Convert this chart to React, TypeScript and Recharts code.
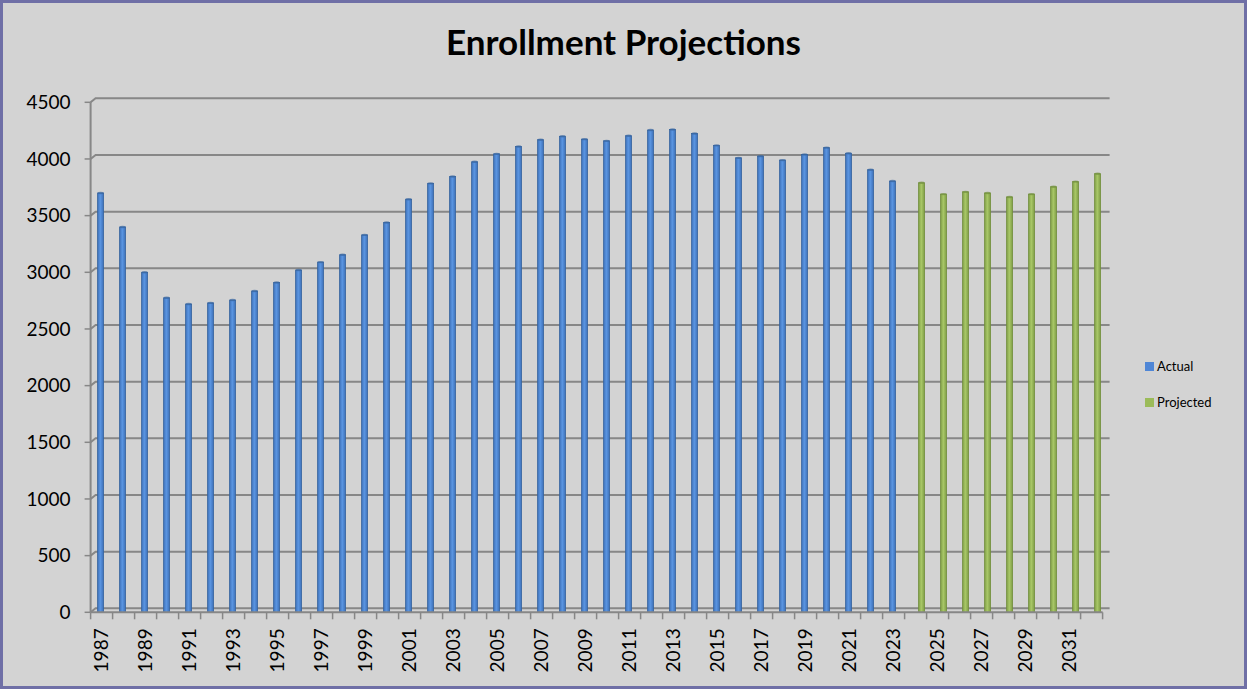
import React from "react";
import { BarChart, Bar, XAxis, YAxis, CartesianGrid, Legend } from "recharts";

// Enrollment per school year, actual counts then projections
const years = [
  "1987", "1988", "1989", "1990", "1991", "1992", "1993", "1994", "1995", "1996",
  "1997", "1998", "1999", "2000", "2001", "2002", "2003", "2004", "2005", "2006",
  "2007", "2008", "2009", "2010", "2011", "2012", "2013", "2014", "2015", "2016",
  "2017", "2018", "2019", "2020", "2021", "2022", "2023", "2024", "2025", "2026",
  "2027", "2028", "2029", "2030", "2031", "2032",
];
const actualValues = [
  3700, 3400, 3000, 2775, 2720, 2730, 2755, 2835, 2910, 3020,
  3090, 3155, 3330, 3440, 3645, 3785, 3845, 3975, 4045, 4110,
  4170, 4200, 4175, 4160, 4205, 4255, 4260, 4225, 4120, 4010,
  4025, 3990, 4040, 4100, 4050, 3905, 3805,
];
const projectedValues = [3790, 3690, 3710, 3700, 3665, 3690, 3755, 3800, 3870];
const yTicks = [0, 500, 1000, 1500, 2000, 2500, 3000, 3500, 4000, 4500];

const data = years.map((year, i) => ({
  year,
  actual: i < actualValues.length ? actualValues[i] : null,
  projected: i >= actualValues.length ? projectedValues[i - actualValues.length] : null,
}));

const W = 1247;
const H = 689;
const PLOT_LEFT = 90.6;
const PLOT_RIGHT = 1102.6;
const BAND = (PLOT_RIGHT - PLOT_LEFT) / years.length;
const GRID = "#878787";
const FONT = "Lato, 'Open Sans', sans-serif";

const makeShape = (gradId: string, edge: string) => (props: any) => {
  const { x, y, width, height } = props;
  if (!height || height <= 0) return <g />;
  const sx = x + 3;
  return (
    <g>
      <rect x={sx} y={y} width={width} height={height} fill={`url(#${gradId})`} stroke={edge} strokeWidth={0.8} />
      <ellipse cx={sx + width / 2} cy={y} rx={width / 2} ry={1.2} fill={edge} opacity={0.6} />
    </g>
  );
};

const XTick = (props: any) => {
  const { x, y, payload, index } = props;
  const half = BAND / 2;
  return (
    <g>
      <line x1={x - half} x2={x - half} y1={y} y2={y + 7} stroke={GRID} strokeWidth={1.5} />
      {index === years.length - 1 && (
        <line x1={x + half} x2={x + half} y1={y} y2={y + 7} stroke={GRID} strokeWidth={1.5} />
      )}
      {index % 2 === 0 && (
        <text
          x={x}
          y={y + 16}
          dy="0.36em"
          transform={`rotate(-90, ${x}, ${y + 16})`}
          textAnchor="end"
          fontSize={19}
          fontFamily={FONT}
          fill="#000"
        >
          {payload.value}
        </text>
      )}
    </g>
  );
};

const gridLine = (p: any) => (
  <polyline
    key={p.key ?? `g-${p.y1}`}
    points={`${p.x1},${p.y1} ${p.x1 + 5},${p.y1 - 4} ${p.x2 + 7},${p.y1 - 4}`}
    fill="none"
    stroke={GRID}
    strokeWidth={2}
  />
);

const LegendBox = () => (
  <div style={{ fontFamily: FONT, fontSize: 13, color: "#000" }}>
    {[
      { label: "Actual", color: "#4f86d6" },
      { label: "Projected", color: "#9bbb59" },
    ].map((it) => (
      <div key={it.label} style={{ display: "flex", alignItems: "center", height: 18, marginBottom: 18 }}>
        <span style={{ width: 9, height: 9, background: it.color, display: "inline-block", marginRight: 3 }} />
        <span>{it.label}</span>
      </div>
    ))}
  </div>
);

export default function App() {
  return (
    <div style={{ position: "absolute", left: 0, top: 0, width: W, height: H, background: "#d3d3d3", overflow: "hidden" }}>
      <div
        style={{
          position: "absolute",
          left: 0,
          top: 20,
          width: W,
          textAlign: "center",
          fontFamily: FONT,
          fontWeight: 700,
          fontSize: 35,
          lineHeight: "42px",
          color: "#000",
        }}
      >
        Enrollment Projections
      </div>
      <div style={{ position: "absolute", left: 0, top: 0 }}>
        <BarChart
          width={W}
          height={H}
          data={data}
          margin={{ top: 102.3, right: W - PLOT_RIGHT, bottom: H - 612.3 - 60, left: 0 }}
          barSize={6}
          barGap={1}
        >
          <defs>
            <linearGradient id="blueGrad" x1="0" y1="0" x2="1" y2="0">
              <stop offset="0%" stopColor="#3d70b8" />
              <stop offset="45%" stopColor="#5b96e2" />
              <stop offset="100%" stopColor="#3d70b8" />
            </linearGradient>
            <linearGradient id="greenGrad" x1="0" y1="0" x2="1" y2="0">
              <stop offset="0%" stopColor="#7e9c45" />
              <stop offset="45%" stopColor="#a9c868" />
              <stop offset="100%" stopColor="#7e9c45" />
            </linearGradient>
          </defs>
          <CartesianGrid vertical={false} horizontal={gridLine} />
          <XAxis
            dataKey="year"
            interval={0}
            height={60}
            tickSize={0}
            tickMargin={0}
            tickLine={false}
            axisLine={{ stroke: GRID, strokeWidth: 2 }}
            tick={<XTick />}
          />
          <YAxis
            width={PLOT_LEFT}
            domain={[0, 4500]}
            ticks={yTicks}
            interval={0}
            tickSize={6}
            tickMargin={14}
            tick={{ fontSize: 19, fontFamily: FONT, fill: "#000" }}
            tickLine={{ stroke: GRID, strokeWidth: 1.5 }}
            axisLine={{ stroke: GRID, strokeWidth: 2 }}
          />
          <Legend
            layout="vertical"
            align="center"
            verticalAlign="middle"
            content={<LegendBox />}
            wrapperStyle={{ left: 1145, top: 357, width: 100 }}
          />
          <Bar dataKey="actual" name="Actual" fill="#4f86d6" shape={makeShape("blueGrad", "#36649f")} isAnimationActive={false} />
          <Bar dataKey="projected" name="Projected" fill="#9bbb59" shape={makeShape("greenGrad", "#728f3d")} isAnimationActive={false} />
        </BarChart>
      </div>
      <div
        style={{
          position: "absolute",
          left: 0,
          top: 0,
          width: W,
          height: H,
          boxSizing: "border-box",
          border: "3px solid #6f6fa6",
          pointerEvents: "none",
        }}
      />
    </div>
  );
}
